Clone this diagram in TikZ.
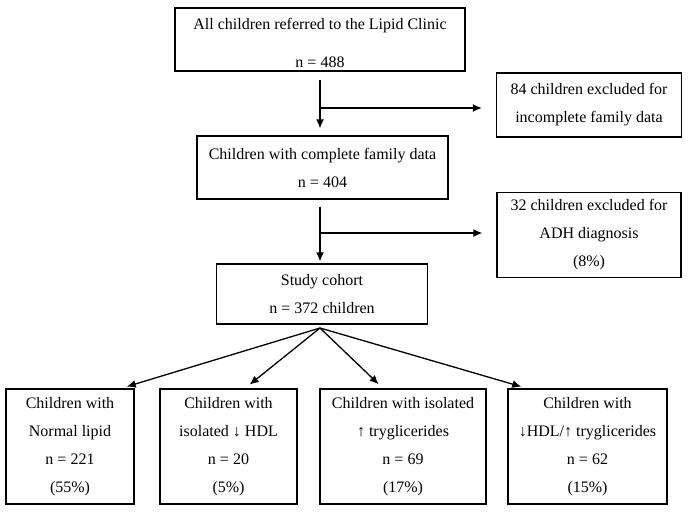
\documentclass[tikz,border=0pt]{standalone}
\usepackage{fontspec}
\setmainfont{Liberation Serif}
\usetikzlibrary{arrows.meta}

\begin{document}
\begin{tikzpicture}[> = {Latex[length=9pt,width=8pt]}, % arrow head style
	x=1pt,y=-1pt,
	line width=1.3pt,
	every node/.style={draw,align=center,inner sep=0pt,font=\fontsize{16}{28}\selectfont},
	flowbox/.style={minimum width=#1},
	]
	\useasboundingbox (0,0) rectangle (700,519);
	\node[flowbox=290pt,minimum height=63pt] (all) at (320,39.5) {\rule{0pt}{18pt}All children referred to the Lipid Clinic\\[10pt] n = 488};
	\node[flowbox=185pt,minimum height=64pt] (ex1) at (589,105) {84 children excluded for\\ incomplete family data};
	\node[flowbox=251pt,minimum height=63pt] (comp) at (322.5,167.5) {Children with complete family data\\ n = 404};
	\node[flowbox=184pt,minimum height=85pt] (ex2) at (589,235) {32 children excluded for\\ ADH diagnosis\\ (8\%)};
	\node[flowbox=211pt,minimum height=60pt] (cohort) at (322,294) {Study cohort\\ n = 372 children};
	\node[flowbox=128pt,minimum height=115pt] (norm) at (70,446.5) {Children with\\ Normal lipid\\ n = 221\\ (55\%)};
	\node[flowbox=137pt,minimum height=115pt] (hdl) at (228.5,446.5) {Children with\\ isolated ↓ HDL\\ n = 20\\ (5\%)};
	\node[flowbox=166pt,minimum height=115pt] (tg) at (403,446.5) {Children with isolated\\ ↑ tryglicerides\\ n = 69\\ (17\%)};
	\node[flowbox=159pt,minimum height=115pt] (both) at (587.5,446.5) {Children with\\ ↓HDL/↑ tryglicerides\\ n = 62\\ (15\%)};
	\coordinate (b1) at (320,108);
	\coordinate (b2) at (320,233);
	\coordinate (fan) at (320,328);
	\draw[->,shorten <=8pt,shorten >=7pt] (all.south) -- (all.south |- comp.north);
	\draw[->,shorten >=14pt] (b1) -- (b1 -| ex1.west);
	\draw[->,shorten <=7pt,shorten >=2pt] (b1 |- comp.south) -- (b1 |- cohort.north);
	\draw[->,shorten >=14pt] (b2) -- (b2 -| ex2.west);
	\draw[->,shorten >=6pt] (fan) -- ([xshift=51pt]norm.north);
	\draw[->,shorten >=6pt] (fan) -- ([xshift=16.5pt]hdl.north);
	\draw[->,shorten >=6pt] (fan) -- ([xshift=-20pt]tg.north);
	\draw[->,shorten >=6pt] (fan) -- ([xshift=-60.5pt]both.north);
\end{tikzpicture}
\end{document}
